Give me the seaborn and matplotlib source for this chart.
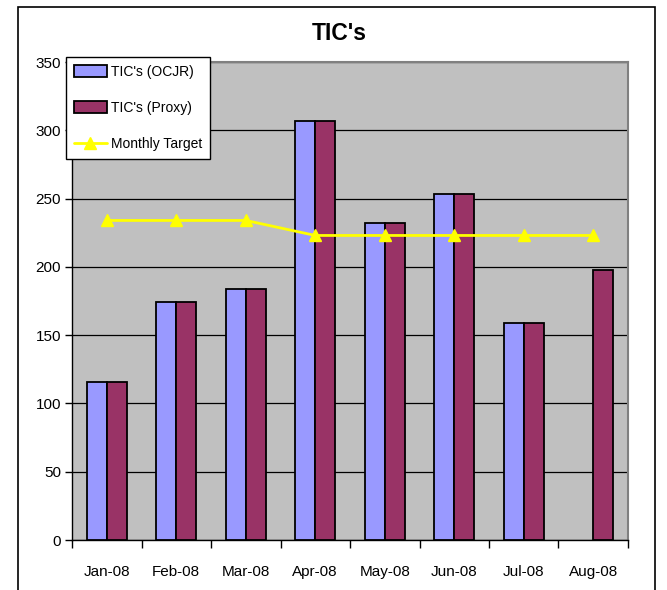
import matplotlib
matplotlib.use("Agg")
import matplotlib.pyplot as plt
from matplotlib.patches import Rectangle, Patch
from matplotlib.lines import Line2D
import seaborn as sns
import pandas as pd
import numpy as np

months = ["Jan-08", "Feb-08", "Mar-08", "Apr-08", "May-08", "Jun-08", "Jul-08", "Aug-08"]
ocjr = [116, 174, 184, 307, 232, 253, 159, np.nan]
proxy = [116, 174, 184, 307, 232, 253, 159, 198]
target = [234, 234, 234, 223, 223, 223, 223, 223]
yticks = [0, 50, 100, 150, 200, 250, 300, 350]

sns.set_theme(style="white")
plt.rcParams["font.family"] = ["Liberation Sans", "DejaVu Sans"]
plt.rcParams["text.color"] = "black"
plt.rcParams["xtick.color"] = "black"
plt.rcParams["ytick.color"] = "black"
plt.rcParams["xtick.labelcolor"] = "black"
plt.rcParams["ytick.labelcolor"] = "black"

df = pd.DataFrame({
    "Month": months * 2,
    "Value": ocjr + proxy,
    "Series": ["TIC's (OCJR)"] * 8 + ["TIC's (Proxy)"] * 8,
})
palette = {"TIC's (OCJR)": "#9999FF", "TIC's (Proxy)": "#993366"}

fig = plt.figure(figsize=(6.67, 5.9), dpi=100)
ax = fig.add_axes([0.108, 0.0847, 0.8335, 0.8102])
ax.set_facecolor("#C0C0C0")

sns.barplot(data=df, x="Month", y="Value", hue="Series", order=months,
            hue_order=list(palette), palette=palette, width=0.58,
            edgecolor="black", linewidth=1.3, saturation=1, ax=ax, legend=False, zorder=3)

ax.plot(np.arange(len(months)), target, color="#FFFF00", lw=2,
        marker="^", markersize=9, zorder=5)

ax.set_ylim(0, 350)
ax.set_xlim(-0.5, len(months) - 0.5)
ax.set_yticks(yticks)
ax.set_yticklabels([str(v) for v in yticks], fontsize=11)
ax.yaxis.grid(True, color="black", lw=0.9, zorder=0)
ax.set_axisbelow(True)
ax.set_xticks(np.arange(len(months)))
ax.set_xticklabels(months, fontsize=11)
ax.set_xticks(np.arange(-0.5, len(months), 1.0), minor=True)
ax.tick_params(axis="x", which="major", length=0, pad=18)
ax.tick_params(axis="x", which="minor", length=6, width=1, color="black", direction="out", bottom=True)
ax.tick_params(axis="y", length=5, width=1, color="black", direction="out", pad=3, left=True)
ax.set_xlabel("")
ax.set_ylabel("")
for s in ["top", "right"]:
    ax.spines[s].set_color("#808080")
    ax.spines[s].set_linewidth(1.5)
for s in ["left", "bottom"]:
    ax.spines[s].set_color("black")
    ax.spines[s].set_linewidth(1)

fig.text(0.508, 0.943, "TIC's", ha="center", va="center", fontsize=16.5,
         fontweight="bold", color="black")

handles = [
    Patch(facecolor="#9999FF", edgecolor="black", linewidth=1.3, label="TIC's (OCJR)"),
    Patch(facecolor="#993366", edgecolor="black", linewidth=1.3, label="TIC's (Proxy)"),
    Line2D([0], [0], color="#FFFF00", lw=2, marker="^", markersize=9, label="Monthly Target"),
]
leg = fig.legend(handles=handles, loc="upper left", bbox_to_anchor=(66 / 667, 1 - 57 / 590),
                 fontsize=10, frameon=True, fancybox=False, edgecolor="black",
                 framealpha=1, borderpad=0.55, labelspacing=1.6, handlelength=2.4,
                 handleheight=0.9, handletextpad=0.3, borderaxespad=0)
leg.get_frame().set_linewidth(1)

fig.patches.append(Rectangle((18 / 667, -0.05), (655 - 18) / 667, 1.05 - 7 / 590,
                             transform=fig.transFigure, fill=False, edgecolor="black",
                             lw=1.2, zorder=0))

fig.savefig("out.png", dpi=100)
